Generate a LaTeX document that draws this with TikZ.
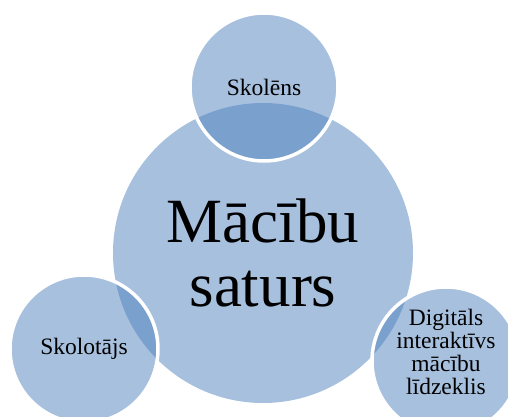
\documentclass[tikz,border=0pt]{standalone}
\usepackage{fontspec}
\setmainfont{Liberation Serif}
\definecolor{accent}{RGB}{79,129,189}

\begin{document}
\begin{tikzpicture}[x=1pt, y=-1pt,
  bubble/.style={circle, fill=accent, fill opacity=0.5, text opacity=1,
    draw=white, line width=3.5pt, align=center, inner sep=0pt,
    font=\fontsize{23.5}{23}\selectfont}]
\useasboundingbox (0,0) rectangle (508,417);
\clip (0,0) rectangle (508,417);

\node[bubble, draw=none, minimum size=300pt, font=\fontsize{63}{64}\selectfont] (saturs) at (263,253) {Mācību\\saturs};
\node[bubble, minimum size=148pt] (skolens) at (264,87) {Skolēns};
\node[bubble, minimum size=148pt] (skolotajs) at (84,349) {Skolotājs};
\node[bubble, minimum size=148pt, text depth=19pt] (lidzeklis) at (446,361) {Digitāls\\interaktīvs\\mācību\\līdzeklis};
\end{tikzpicture}
\end{document}
